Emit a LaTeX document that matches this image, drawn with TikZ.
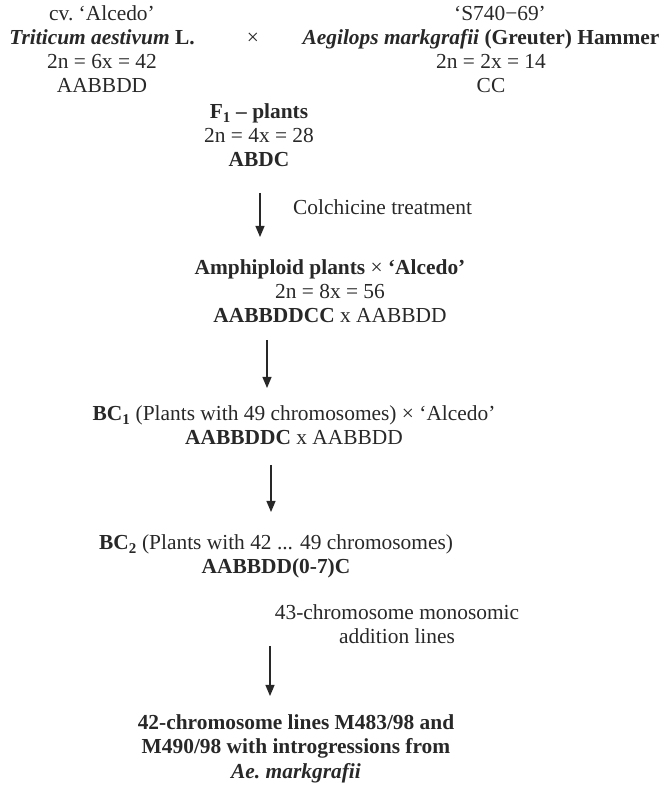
\documentclass[tikz,border=0pt]{standalone}
\usepackage{fontspec}
\setmainfont{Liberation Serif}
\usepackage{tikz}
\usetikzlibrary{arrows.meta,positioning}
\definecolor{inkgray}{RGB}{40,40,40}

\begin{document}
\begin{tikzpicture}[x=1pt,y=1pt,
 every node/.style={text=inkgray,inner sep=0pt},
 stage/.style={align=center,anchor=base,font=\fontsize{21.4}{24}\selectfont},
 note/.style={align=center,anchor=base,font=\fontsize{21.4}{24}\selectfont},
 flow/.style={-{Triangle[length=11pt,width=9pt]},inkgray,line width=1.2pt}
]
\useasboundingbox (0,0) rectangle (662,786);
% parents
\node[stage] (wheat) at (102,693) {cv.\ ‘Alcedo’\\\textbf{\textit{Triticum aestivum}} \textbf{L.}\\2n = 6x = 42\\AABBDD};
\node[stage] (cross) at (253,741) {×};
\node[stage] (acc) at (500,765) {‘S740−69’};
\node[stage] (aegilops) at (481,741) {\textbf{\textit{Aegilops markgrafii}} \textbf{(Greuter) Hammer}};
\node[stage] (cc) at (491,693) {2n = 2x = 14\\CC};
% hybrid and backcrosses
\node[stage] (fone) at (259,619) {\textbf{F\textsubscript{1} – plants}\\2n = 4x = 28\\\textbf{ABDC}};
\node[stage] (amphi) at (330,463) {\textbf{Amphiploid plants} × \textbf{‘Alcedo’}\\2n = 8x = 56\\\textbf{AABBDDCC} x AABBDD};
\node[stage] (bcone) at (294,341) {\textbf{BC\textsubscript{1}} (Plants with 49 chromosomes) × ‘Alcedo’\\\textbf{AABBDDC} x AABBDD};
\node[stage] (bctwo) at (276,212) {\textbf{BC\textsubscript{2}} (Plants with 42 ... 49 chromosomes)\\\textbf{AABBDD(0-7)C}};
\node[stage] (final) at (296,8) {\textbf{42-chromosome lines M483/98 and}\\\textbf{M490/98 with introgressions from}\\\textbf{\textit{Ae.\ markgrafii}}};
% step notes
\node[note,anchor=base west] (colch) at (293,571) {Colchicine treatment};
\node[note] (addition) at (397,142) {43-chromosome monosomic\\addition lines};
% arrows
\coordinate (a1s) at (260,593); \coordinate (a1e) at (260,549);
\coordinate (a2s) at (267,446); \coordinate (a2e) at (267,398);
\coordinate (a3s) at (271,321); \coordinate (a3e) at (271,274);
\coordinate (a4s) at (270,140); \coordinate (a4e) at (270,90);
\draw[flow] (a1s) -- (a1e);
\draw[flow] (a2s) -- (a2e);
\draw[flow] (a3s) -- (a3e);
\draw[flow] (a4s) -- (a4e);
\end{tikzpicture}
\end{document}
